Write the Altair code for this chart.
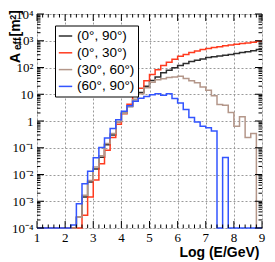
import altair as alt
import pandas as pd

# ---------------- data ----------------
bin_edges = [1.0, 1.2, 1.4, 1.6, 1.8, 2.0, 2.2, 2.4, 2.6, 2.8,
             3.0, 3.2, 3.4, 3.6, 3.8, 4.0, 4.2, 4.4, 4.6, 4.8,
             5.0, 5.2, 5.4, 5.6, 5.8, 6.0, 6.2, 6.4, 6.6, 6.8,
             7.0, 7.2, 7.4, 7.6, 7.8, 8.0, 8.2, 8.4, 8.6, 8.8, 9.0]

series_names = ["(0°, 90°)", "(0°, 30°)", "(30°, 60°)", "(60°, 90°)"]
series_colors = ["#2e2e2e", "#ff3b1f", "#b4978a", "#3355ff"]

# effective area [m^2] per bin (0 = empty bin)
a_0_90 = [0, 0, 0, 0, 0, 0, 0, 2.5e-4, 1.45e-3, 5.2e-3,
          0.016, 0.044, 0.13, 0.30, 0.93, 1.95, 3.5, 6.3, 11.7, 20,
          33, 44, 63, 79, 98, 120, 141, 166, 186, 209,
          234, 251, 269, 288, 309, 331, 363, 389, 427, 468]
a_0_30 = [0, 0, 0, 0, 0, 0, 0, 0, 3.0e-4, 1.45e-3,
          6.2e-3, 0.025, 0.081, 0.24, 0.76, 1.86, 4.2, 8.9, 16.6, 32,
          55, 83, 120, 158, 204, 263, 309, 363, 417, 468,
          513, 562, 603, 646, 692, 741, 794, 832, 871, 955]
a_30_60 = [0, 0, 0, 0, 0, 0, 0, 2.5e-4, 1.66e-3, 6.0e-3,
           0.019, 0.05, 0.145, 0.34, 0.95, 1.9, 3.5, 6.2, 10.5, 17.4,
           28, 35, 38, 42, 44, 47, 39, 32, 27, 18.6,
           14.1, 8.7, 4.1, 3.9, 2.1, 0.63, 1.45, 0.24, 0.34, 0]
a_60_90 = [0, 0, 0, 0, 0, 0, 1.3e-4, 8.1e-4, 4.5e-3, 0.0132,
           0.042, 0.102, 0.23, 0.52, 1.12, 2.3, 3.7, 5.5, 7.1, 8.3,
           9.5, 10.5, 9.1, 10.5, 6.9, 4.7, 2.7, 1.35, 0.91, 0.63,
           0.56, 0.42, 0, 0.043, 0, 0, 0, 0, 0, 0]

x_ticks = [1, 2, 3, 4, 5, 6, 7, 8, 9]
x_tick_labels = ["1", "2", "3", "4", "5", "6", "7", "8", "9"]
x_minor = [1.2, 1.4, 1.6, 1.8, 2.2, 2.4, 2.6, 2.8, 3.2, 3.4, 3.6, 3.8,
           4.2, 4.4, 4.6, 4.8, 5.2, 5.4, 5.6, 5.8, 6.2, 6.4, 6.6, 6.8,
           7.2, 7.4, 7.6, 7.8, 8.2, 8.4, 8.6, 8.8]
y_ticks = [1e-4, 1e-3, 1e-2, 1e-1, 1, 10, 100, 1000, 10000]
y_tick_labels = ["10⁻⁴", "10⁻³", "10⁻²", "10⁻¹", "1", "10", "10²", "10³", "10⁴"]
y_minor = [m * d for d in [1e-4, 1e-3, 1e-2, 1e-1, 1, 10, 100, 1000]
           for m in [2, 3, 4, 5, 6, 7, 8, 9]]

FLOOR = 1e-4
W, H = 225, 214

# ---------------- build table ----------------
rows = []
for name, vals in zip(series_names, [a_0_90, a_0_30, a_30_60, a_60_90]):
    for i, v in enumerate(vals):
        rows.append({"series": name, "E": bin_edges[i], "A": max(v, FLOOR), "o": i})
    rows.append({"series": name, "E": bin_edges[-1], "A": max(vals[-1], FLOOR), "o": len(vals)})
df = pd.DataFrame(rows)

# label expression built from the tick lists
pairs = list(zip(y_ticks, y_tick_labels))
expr = "'" + pairs[0][1] + "'"
for v, lab in pairs[1:]:
    expr = f"datum.value >= {v * 0.9} ? '{lab}' : (" + expr + ")"

xscale = alt.Scale(domain=[1, 9], nice=False, zero=False)
yscale = alt.Scale(type="log", domain=[1e-4, 1e4], nice=False)

xaxis = alt.Axis(values=x_ticks, ticks=False, tickSize=0, domain=False,
                 grid=True, gridDash=[2, 2], gridColor="#9a9a9a", gridWidth=1,
                 labels=False, title=None)
yaxis = alt.Axis(values=y_ticks, labelExpr=expr, ticks=False, tickSize=0, domain=False,
                 grid=True, gridDash=[2, 2], gridColor="#9a9a9a", gridWidth=1,
                 labelFont="Liberation Serif", labelFontSize=13, labelColor="black",
                 labelPadding=4, labelOverlap=False, labelFlush=False, title=None)

lines = alt.Chart(df).mark_line(interpolate="step-after", strokeWidth=1.5).encode(
    x=alt.X("E:Q", scale=xscale, axis=xaxis),
    y=alt.Y("A:Q", scale=yscale, axis=yaxis),
    color=alt.Color("series:N", scale=alt.Scale(domain=series_names, range=series_colors),
                    legend=alt.Legend(title=None, orient="none", legendX=18, legendY=11.5,
                                      symbolType="stroke", symbolSize=180, symbolStrokeWidth=1.5,
                                      labelFont="Liberation Sans", labelFontSize=13.5,
                                      labelColor="black", strokeColor="black", fillColor="white",
                                      padding=3, rowPadding=2.8, labelOffset=4)),
    order="o:Q",
)

# x tick labels as text marks placed through the x scale
xlabels = alt.Chart(pd.DataFrame({"E": x_ticks, "lab": x_tick_labels})).mark_text(
    baseline="alphabetic", align="center", font="Liberation Serif", fontSize=13, color="black"
).encode(x=alt.X("E:Q", scale=xscale, axis=xaxis), y=alt.value(H + 14), text="lab:N")

# inward ticks
def xt(vals, y1, y2):
    return alt.Chart(pd.DataFrame({"E": vals})).mark_rule(color="black", strokeWidth=1).encode(
        x=alt.X("E:Q", scale=xscale, axis=xaxis), y=alt.value(y1), y2=alt.value(y2))

def yt(vals, x1, x2):
    return alt.Chart(pd.DataFrame({"A": vals})).mark_rule(color="black", strokeWidth=1).encode(
        y=alt.Y("A:Q", scale=yscale, axis=yaxis), x=alt.value(x1), x2=alt.value(x2))

ticks = [
    xt(x_ticks, H, H - 7), xt(x_minor, H, H - 3.5),
    xt(x_ticks, 0, 7), xt(x_minor, 0, 3.5),
    yt(y_ticks, 0, 7), yt(y_minor, 0, 3.5),
    yt(y_ticks, W, W - 7), yt(y_minor, W, W - 3.5),
]

# axis titles as text pieces
def piece(txt, size, x, y, angle=270, align="left"):
    return alt.Chart(pd.DataFrame({"t": [txt]})).mark_text(
        angle=angle, align=align, baseline="alphabetic", font="Liberation Sans",
        fontWeight="bold", fontSize=size, color="black").encode(
        text="t:N", x=alt.value(x), y=alt.value(y))

ytitle = [
    piece("A", 14, -17.5, 49.0),
    piece("eff", 10, -16.5, 36.0),
    piece("[m", 14, -17.5, 22.4),
    piece("2", 9, -20.8, 5.8),
    piece("]", 14, -17.5, 0.8),
]
xtitle = piece("Log (E/GeV)", 14, 222.5, 242.5, angle=0, align="right")

chart = alt.layer(lines, xlabels, *ticks, *ytitle, xtitle).properties(
    width=W, height=H,
    autosize=alt.AutoSizeParams(type="none"),
    padding={"left": 29, "top": 6, "right": 5, "bottom": 36},
).configure_view(stroke="black", strokeWidth=1.5).configure(background="white")

chart.save("out.html", embed_options={"renderer": "svg", "actions": False})
